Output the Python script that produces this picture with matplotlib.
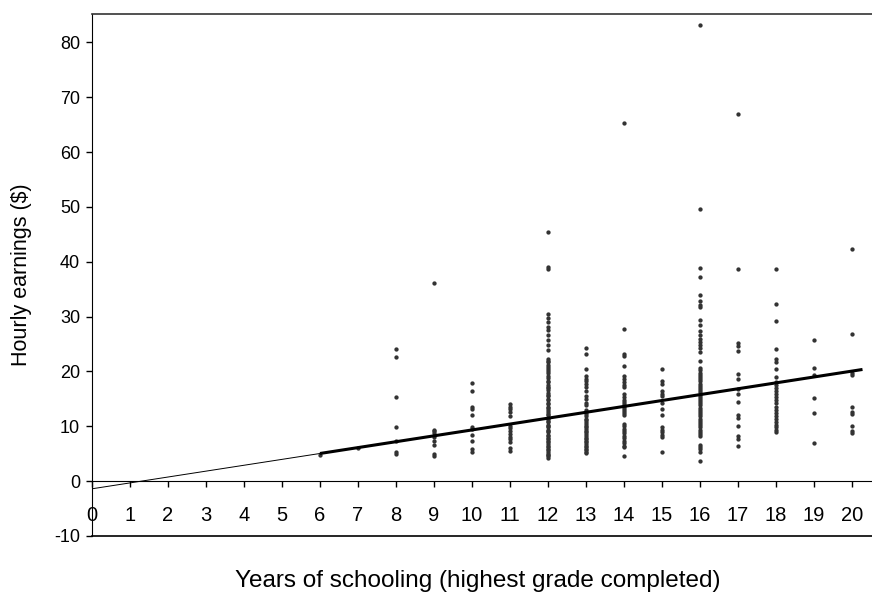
import matplotlib
matplotlib.use('Agg')
import matplotlib.pyplot as plt

plt.rcParams['font.family'] = ['Liberation Sans', 'DejaVu Sans']
plt.rcParams['axes.unicode_minus'] = False

# hourly earnings, one list per years of schooling
s6 = [4.8]
s7 = [6.0]
s8 = [24.1, 22.6, 15.3, 9.8, 7.3, 5.3, 4.9]
s9 = [36.1, 9.4, 9.2, 8.8, 8.0, 7.3, 6.6, 4.9, 4.5]
s10 = [17.9, 16.4, 13.6, 13.2, 12.1, 9.9, 9.5, 8.4, 7.4, 5.8, 5.4]
s11 = [14.1, 13.5, 13.1, 12.6, 11.9, 10.1, 9.7, 9.2, 8.6, 8.1, 7.7, 7.1, 6.0, 5.5]
s12 = [45.5, 39.1, 38.7, 30.4, 29.8, 29.1, 28.2, 27.5, 26.6, 25.7, 24.9, 23.9,
       22.3, 22.0, 21.7, 21.2, 20.9, 20.4, 20.1, 19.7, 19.2, 18.9, 18.3, 18.1,
       17.6, 17.2, 16.9, 16.6, 16.1, 15.8, 15.5, 15.0, 14.8, 14.3, 14.1, 13.6,
       13.3, 13.0, 12.7, 12.2, 12.0, 11.6, 11.4, 11.0, 10.7, 10.3, 10.1, 9.8,
       9.4, 9.2, 8.9, 8.5, 8.3, 7.9, 7.7, 7.3, 7.1, 6.8, 6.4, 6.2, 5.8, 5.6,
       5.3, 5.0, 4.8, 4.6, 4.3]
s13 = [24.2, 23.1, 20.4, 19.2, 18.7, 18.2, 17.8, 17.2, 16.5, 15.6, 15.0, 14.3,
       13.9, 12.9, 12.6, 12.3, 11.8, 11.4, 11.1, 10.8, 10.4, 10.1, 9.8, 9.5,
       9.2, 8.9, 8.6, 8.3, 7.9, 7.7, 7.4, 7.1, 6.8, 6.5, 6.2, 5.9, 5.6, 5.3, 5.1]
s14 = [65.3, 27.8, 23.2, 22.8, 21.0, 19.1, 18.6, 18.1, 17.6, 17.2, 15.9, 15.3,
       14.8, 14.4, 14.0, 13.6, 13.2, 12.8, 12.4, 12.0, 10.5, 10.1, 9.6, 9.2,
       8.8, 8.3, 7.8, 7.4, 6.9, 6.5, 6.2, 4.6]
s15 = [20.4, 18.3, 17.8, 16.5, 15.9, 15.5, 14.3, 13.2, 12.0, 9.9, 9.4, 9.0,
       8.5, 8.0, 5.3]
s16 = [83.2, 49.6, 38.8, 37.2, 34.0, 32.8, 32.2, 31.7, 29.4, 28.4, 27.3, 26.6,
       26.0, 25.4, 24.8, 24.2, 23.6, 22.0, 20.6, 20.2, 19.8, 19.4, 19.0, 18.6,
       18.2, 17.8, 17.4, 17.0, 16.6, 16.2, 15.8, 15.4, 15.0, 14.6, 14.2, 13.8,
       13.4, 13.0, 12.6, 12.2, 11.8, 11.4, 11.0, 10.6, 10.2, 9.8, 9.4, 9.0,
       8.6, 8.3, 6.6, 6.2, 5.8, 5.4, 3.6]
s17 = [66.9, 38.7, 25.2, 24.6, 23.7, 19.6, 18.7, 16.8, 15.9, 14.4, 12.0, 11.6,
       10.1, 8.3, 7.7, 6.4]
s18 = [38.7, 32.3, 29.2, 24.1, 22.3, 21.8, 20.5, 19.0, 18.1, 17.6, 17.0, 16.5,
       15.9, 15.4, 14.8, 14.2, 13.6, 13.0, 12.5, 11.9, 11.4, 10.8, 10.3, 9.8,
       9.4, 8.9]
s19 = [25.8, 20.6, 19.3, 15.2, 12.4, 7.0]
s20 = [42.3, 26.8, 19.8, 19.4, 13.6, 12.6, 12.2, 10.1, 9.1, 8.8]

years = [6, 7, 8, 9, 10, 11, 12, 13, 14, 15, 16, 17, 18, 19, 20]
earnings = [s6, s7, s8, s9, s10, s11, s12, s13, s14, s15, s16, s17, s18, s19, s20]

# fitted regression line
intercept = -1.391
slope = 1.073

fig = plt.figure(figsize=(8.72, 5.92), dpi=100)
ax = fig.add_axes([0.1055, 0.0946, 0.8945, 0.8818])

xs = []
ys = []
for s, vals in zip(years, earnings):
    xs += [s] * len(vals)
    ys += vals
ax.plot(xs, ys, 'o', color='#333333', ms=3.1, mew=0, zorder=3)

x_thin = [0, 6]
x_thick = [6, 20.28]
ax.plot(x_thin, [intercept + slope * x for x in x_thin], color='black', lw=0.7, zorder=4)
ax.plot(x_thick, [intercept + slope * x for x in x_thick], color='black', lw=2.2,
        solid_capstyle='butt', zorder=4)

ax.set_xlim(0, 20.53)
ax.set_ylim(-10, 85.2)
ax.set_xticks(range(0, 21))
ax.set_yticks(range(-10, 81, 10))

ax.spines['right'].set_visible(False)
ax.spines['bottom'].set_position(('data', 0))
ax.spines['top'].set_color('#333333')
ax.spines['top'].set_linewidth(1.2)
ax.axhline(-10, color='black', lw=1.2, clip_on=False)

ax.tick_params(axis='x', direction='out', length=4, width=1, pad=14, labelsize=14.5)
ax.tick_params(axis='y', direction='out', length=4.5, width=1, pad=4, labelsize=13)

ax.set_ylabel('Hourly earnings ($)', fontsize=15.5, labelpad=16)
fig.text(0.548, 0.0, 'Years of schooling (highest grade completed)',
         fontsize=17.5, ha='center', va='bottom')

fig.savefig('out.png', dpi=100)
